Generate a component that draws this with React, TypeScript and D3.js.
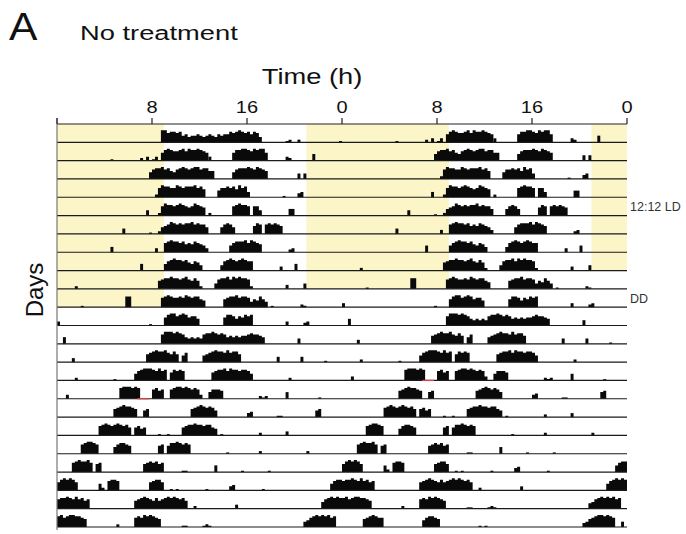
import React from "react";
import * as d3 from "d3";

// Activity bouts per day: [start hour, per-15-min activity levels 0-9]
type Bout = [number, string];

const day01: Bout[] = [[8.75, "9978878564556545654656687898786874"], [19.25, "12"], [20.25, "2"], [23.75, "1"]];
const day02: Bout[] = [[4.5, "1"], [7.0, "203"], [8.0, "13"], [8.75, "6898778979889876"], [12.75, "3"], [14.75, "688998798996"], [19.25, "32"], [21.5, "5"]];
const day03: Bout[] = [[7.75, "5788978657898789978866"], [14.75, "578889879876"], [20.25, "404"]];
const day04: Bout[] = [[8.25, "27988779878889786"], [13.5, "57787869784"], [19.0, "1"], [20.25, "34"]];
const day05: Bout[] = [[7.5, "4"], [8.5, "2798878987679876"], [12.75, "2"], [14.75, "7898870774"], [19.5, "55"]];
const day06: Bout[] = [[5.5, "4"], [7.75, "1"], [8.5, "2"], [8.75, "5679878788978775"], [13.75, "57875"], [16.5, "6870787876"]];
const day07: Bout[] = [[4.5, "4"], [8.25, "3"], [9.0, "789887867687653"], [14.5, "57888979876"], [19.5, "23"]];
const day08: Bout[] = [[7.0, "5"], [9.0, "5789887865764"], [13.75, "47898789877"], [18.75, "3"], [20.0, "5"]];
const day09: Bout[] = [[1.5, "2"], [8.5, "678898878976862"], [13.25, "4788979898872"], [19.25, "3"], [20.75, "4"]];
const day10: Bout[] = [[2.0, "1"], [5.75, "88"], [8.75, "789877879878865"], [14.0, "678897887465864"], [18.0, "1"], [20.5, "21"]];
const day11: Bout[] = [[0, "3"], [7.75, "1"], [9.0, "689978986775"], [14.0, "6887576878"], [19.25, "3"], [20.75, "23"]];
const day12: Bout[] = [[0.5, "5"], [8.75, "79998987545454788987875656566787765"], [20.25, "4"]];
const day13: Bout[] = [[1.25, "3"], [7.5, "67898897686057"], [12.25, "5678988797886"], [18.5, "4"], [20.5, "4"], [22.5, "1"]];
const day14: Bout[] = [[1.5, "2"], [4.75, "1"], [6.5, "57899987978068787"], [13.0, "67889798878875"], [19.5, "2"]];
const day15: Bout[] = [[0.75, "3"], [5.25, "8999898"], [8.0, "7867"], [9.5, "78998987873"], [12.75, "57776"], [17.0, "212"], [19.25, "5"], [22.0, "1"]];
const day16: Bout[] = [[4.75, "67898876"], [7.25, "56"], [11.25, "678987875"], [16.0, "34"], [18.5, "11"], [21.75, "56"]];
const day17: Bout[] = [[3.5, "7898789878606756"], [8.5, "1"], [9.25, "1"], [10.5, "678898878865"], [13.75, "1"], [17.0, "2"], [19.25, "3"]];
const day18: Bout[] = [[2.0, "789987"], [4.75, "578876"], [8.5, "67068898787"], [14.25, "1"], [17.0, "2"], [21.0, "2"]];
const day19: Bout[] = [[1.25, "7898897067"], [7.25, "6787867"], [10.5, "11"], [13.25, "5"], [15.5, "1"], [17.75, "1"]];
const day20: Bout[] = [[0, "6898986"], [3.5, "5207887"], [7.75, "67886"], [9.5, "1010"], [12.5, "1"], [14.5, "34"], [17.25, "1"], [23.0, "5788"]];
const day21: Bout[] = [[0, "78898797867"], [6.5, "678987686789898786"], [11.5, "2"], [15.0, "3"], [22.25, "5789898"]];
const day22: Bout[] = [[0, "8978998876"], [5.0, "2"], [6.5, "787989876"], [10.5, "11"], [12.25, "121"], [20.75, "45789898978"]];
const day23: Bout[] = [[1.75, "6789877"], [6.75, "578876"], [11.5, "101"], [20.25, "34678998987"], [23.5, "4"]];

const days: Bout[][] = [
  day01, day02, day03, day04, day05, day06, day07, day08, day09, day10, day11, day12,
  day13, day14, day15, day16, day17, day18, day19, day20, day21, day22, day23,
];

const BIN_HOURS = 0.25;
const ROWS = days.length - 1; // double-plotted: row r shows day r and day r+1

const hourTicks = [0, 8, 16, 24, 32, 40, 48];
const hourTickLabels = ["", "8", "16", "0", "8", "16", "0"];

// Light schedule: lights on 21:00, off 09:00
const LIGHTS_ON = 21;
const LIGHTS_OFF = 9;
const lastLitMorningDay = 10;
const lastLitEveningDay = 9;

// Baseline marks drawn in red (day, start hour, end hour)
const redMarkDays = [15];
const redMarkStarts = [6.75];
const redMarkEnds = [7.75];

const conditionRows = [5, 10];
const conditionTexts = ["12:12 LD", "DD"];

const W = 686;
const H = 534;
const FONT = "'Liberation Sans', Arial, Helvetica, sans-serif";

const x = d3.scaleLinear().domain([0, 48]).range([57, 627]);
const rowY = d3.scaleLinear().domain([0, ROWS]).range([124, 527]);
const h = d3.scaleLinear().domain([0, 9]).range([0, 12]);

function boutPath(bout: Bout, offset: number, base: number): string {
  const [start, levels] = bout;
  const pts = levels.split("").map((c, i) => ({ t: start + i * BIN_HOURS, v: +c }));
  pts.push({ t: start + levels.length * BIN_HOURS, v: 0 });
  const area = d3
    .area<{ t: number; v: number }>()
    .x((d) => x(d.t + offset))
    .y0(base)
    .y1((d) => base - h(d.v))
    .curve(d3.curveStepAfter);
  return area(pts) || "";
}

// Text set in a slightly widened face
function Label(props: {
  x: number;
  y: number;
  size: number;
  sx?: number;
  anchor?: "start" | "middle" | "end";
  fill?: string;
  children: React.ReactNode;
}) {
  const { x: tx, y: ty, size, sx = 1, anchor = "start", fill = "#111", children } = props;
  return (
    <text
      transform={`translate(${tx},${ty}) scale(${sx},1)`}
      fontSize={size}
      textAnchor={anchor}
      fill={fill}
    >
      {children}
    </text>
  );
}

export default function App() {
  const rows = d3.range(1, ROWS + 1);

  const lightRects: { x0: number; x1: number; r: number }[] = [];
  rows.forEach((r) => {
    const leftDay = r;
    const rightDay = r + 1;
    if (leftDay <= lastLitMorningDay) lightRects.push({ x0: 0, x1: LIGHTS_OFF, r });
    if (leftDay <= lastLitEveningDay) lightRects.push({ x0: LIGHTS_ON, x1: 24, r });
    if (rightDay <= lastLitMorningDay) lightRects.push({ x0: 24, x1: 24 + LIGHTS_OFF, r });
    if (rightDay <= lastLitEveningDay) lightRects.push({ x0: 24 + LIGHTS_ON, x1: 48, r });
  });

  const red: { x0: number; x1: number; y: number }[] = [];
  redMarkDays.forEach((d, i) => {
    // left half of row d, right half of row d-1
    if (d <= ROWS) red.push({ x0: x(redMarkStarts[i]), x1: x(redMarkEnds[i]), y: rowY(d) });
    if (d - 1 >= 1) red.push({ x0: x(redMarkStarts[i] + 24), x1: x(redMarkEnds[i] + 24), y: rowY(d - 1) });
  });

  return (
    <svg
      width={W}
      height={H}
      viewBox={`0 0 ${W} ${H}`}
      style={{ position: "absolute", left: 0, top: 0, background: "#fff" }}
      fontFamily={FONT}
    >
      <rect width={W} height={H} fill="#fff" />
      <Label x={9} y={40} size={38} sx={1.12}>A</Label>
      <Label x={80} y={40} size={21} sx={1.3}>No treatment</Label>
      <Label x={312} y={84} size={21.5} sx={1.27} anchor="middle">Time (h)</Label>
      <text
        transform={`translate(43, 290) rotate(-90)`}
        fontSize={24}
        fill="#111"
        textAnchor="middle"
      >
        Days
      </text>

      {/* light phases */}
      <g fill="#fcf5c8">
        {lightRects.map((d, i) => (
          <rect
            key={i}
            x={x(d.x0)}
            width={x(d.x1) - x(d.x0)}
            y={rowY(d.r - 1)}
            height={rowY(d.r) - rowY(d.r - 1)}
          />
        ))}
      </g>

      {/* activity */}
      <g fill="#0a0a0a">
        {rows.map((r) => {
          const base = rowY(r);
          const left = days[r - 1].map((b, i) => <path key={`l${i}`} d={boutPath(b, 0, base)} />);
          const right = days[r].map((b, i) => <path key={`r${i}`} d={boutPath(b, 24, base)} />);
          return (
            <g key={r}>
              {left}
              {right}
            </g>
          );
        })}
      </g>

      {/* row baselines */}
      <g stroke="#1a1a1a" strokeWidth={1.2}>
        {rows.map((r) => (
          <line key={r} x1={x(0)} x2={x(48)} y1={rowY(r)} y2={rowY(r)} />
        ))}
      </g>
      <g stroke="#e04040" strokeWidth={1.2}>
        {red.map((d, i) => (
          <line key={i} x1={d.x0} x2={d.x1} y1={d.y} y2={d.y} />
        ))}
      </g>

      {/* top axis */}
      <line x1={x(0)} x2={x(48)} y1={rowY(0)} y2={rowY(0)} stroke="#222" strokeWidth={1.2} />
      <line x1={x(0)} x2={x(0)} y1={rowY(0) - 6} y2={rowY(ROWS) + 3} stroke="#777" strokeWidth={1.2} />
      {hourTicks.map((t, i) => (
        <g key={t}>
          <line x1={x(t)} x2={x(t)} y1={rowY(0) - 6} y2={rowY(0)} stroke="#222" strokeWidth={1.2} />
          <Label x={x(t)} y={113} size={16} sx={1.25} anchor="middle">
            {hourTickLabels[i]}
          </Label>
        </g>
      ))}

      {/* lighting condition labels */}
      {conditionRows.map((r, i) => (
        <text
          key={r}
          x={630}
          y={(rowY(r - 1) + rowY(r)) / 2 + 4.5}
          fontSize={12.5}
          fill="#333"
        >
          {conditionTexts[i]}
        </text>
      ))}
    </svg>
  );
}
